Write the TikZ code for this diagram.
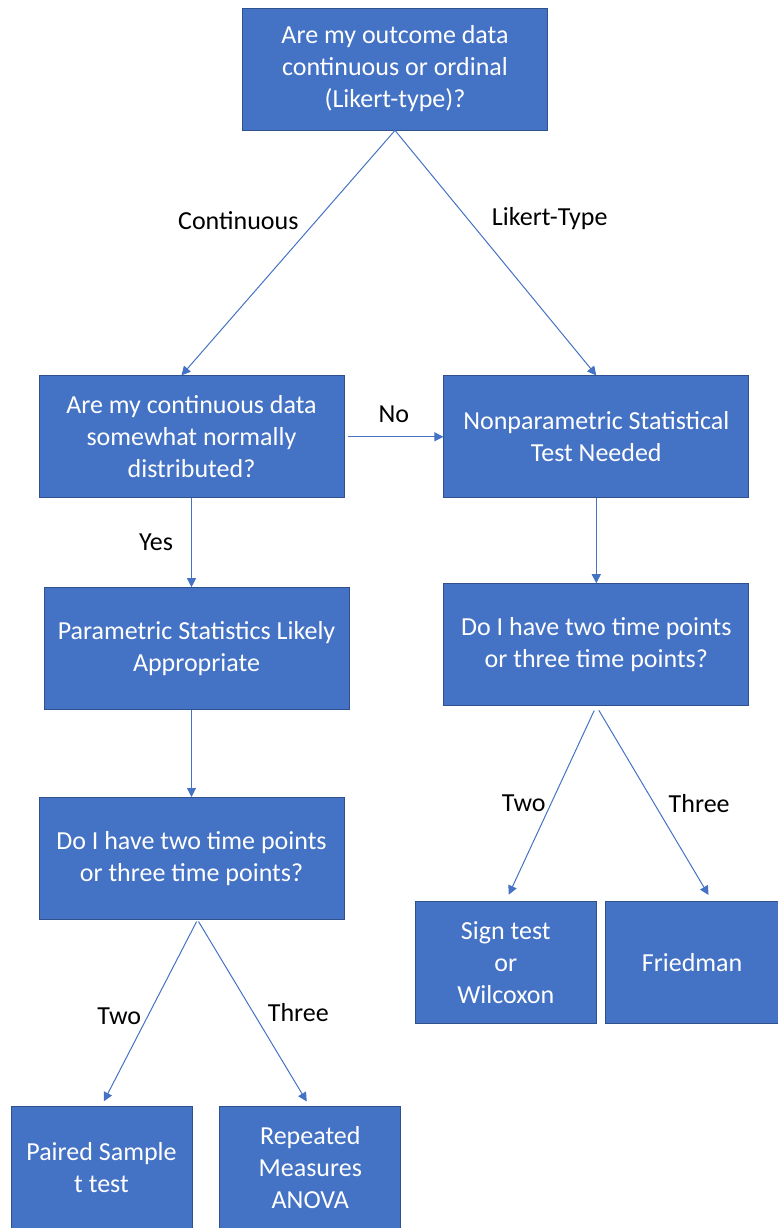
\documentclass[tikz,border=0pt]{standalone}
\usepackage{fontspec}
\setmainfont{Carlito}
\usetikzlibrary{positioning,arrows.meta}
\definecolor{boxblue}{HTML}{4472C4}
\definecolor{edgeblue}{HTML}{2F528F}

\begin{document}
\begin{tikzpicture}[->,>={Triangle[length=9pt,width=9pt]},x=1pt,y=1pt,
  every node/.style={font=\fontsize{26}{32}\selectfont},
  box/.style={draw=edgeblue,line width=0.8pt,fill=boxblue,text=white,
    align=center,minimum width=305pt,minimum height=122pt,inner sep=0pt},
  small/.style={box,minimum width=181pt},
  link/.style={draw=boxblue,line width=1pt},
  lbl/.style={inner sep=0pt,text=black}]
\useasboundingbox (0,0) rectangle (777,-1228);
\node[box] (top) at (395,-69) {Are my outcome data\\continuous or ordinal\\(Likert-type)?};
\node[box] (cont) [below=245pt of top, xshift=-203.5pt] {Are my continuous data\\somewhat normally\\distributed?};
\node[box] (nonpar) [right=99pt of cont] {Nonparametric Statistical\\Test Needed};
\node[box] (param) [below=89pt of cont, xshift=5pt] {Parametric Statistics Likely\\Appropriate};
\node[box] (tpl) [below=87pt of param, xshift=-5pt] {Do I have two time points\\or three time points?};
\node[box] (tpr) [below=85pt of nonpar] {Do I have two time points\\or three time points?};
\node[small] (sign) [below=195pt of tpr, xshift=-90.5pt] {Sign test\\or\\Wilcoxon};
\node[small, minimum width=174pt] (fried) [right=8pt of sign] {Friedman};
\node[small] (paired) [below=186pt of tpl, xshift=-90pt] {Paired Sample\\t test};
\node[small] (rep) [right=27pt of paired] {Repeated\\Measures\\ANOVA};
\draw[link] (top.south) -- ([xshift=-10pt]cont.north) node[lbl,pos=0.37,left=17pt] {Continuous};
\draw[link] (top.south) -- (nonpar.north) node[lbl,pos=0.36,right=24pt] {Likert-Type};
\draw[link,shorten <=4pt] (cont.east) -- (nonpar.west) node[lbl,midway,above=14pt] {No};
\draw[link] (cont.south) -- (cont.south |- param.north) node[lbl,midway,left=18pt] {Yes};
\draw[link] (tpl.north |- param.south) -- (tpl.north);
\draw[link] (nonpar.south) -- (tpr.north);
\draw[link,shorten <=5pt,shorten >=7pt] (tpr.south) -- (sign.north) node[lbl,pos=0.5,left=5pt] {Two};
\draw[link,shorten <=5pt,shorten >=7pt] (tpr.south) -- ([xshift=20pt]fried.north) node[lbl,pos=0.5,right=14pt] {Three};
\draw[link,shorten <=2pt,shorten >=5pt] ([xshift=6pt]tpl.south) -- (paired.north) node[lbl,pos=0.52,left=6pt] {Two};
\draw[link,shorten <=2pt,shorten >=5pt] ([xshift=6pt]tpl.south) -- ([xshift=-1pt]rep.north) node[lbl,pos=0.5,right=14pt] {Three};
\end{tikzpicture}
\end{document}
